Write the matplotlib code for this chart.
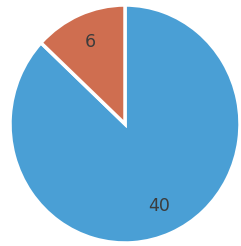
import matplotlib
matplotlib.use("Agg")
import matplotlib.pyplot as plt

values = [40, 6]
labels = ["40", "6"]
colors = ["#4a9fd5", "#cf6e50"]

fig = plt.figure(figsize=(2.41, 2.46), dpi=100)
ax = fig.add_axes([10/241, 3/246, 230/241, 238/246])
wedges, texts = ax.pie(values, labels=labels, colors=colors, startangle=90,
                       counterclock=False, labeldistance=0.75, radius=1.0,
                       wedgeprops=dict(edgecolor="white", linewidth=2.5),
                       textprops=dict(color="#3c3c3c", fontsize=12.5))
for t in texts:
    t.set_horizontalalignment("center")
    t.set_verticalalignment("center")
ax.set_xlim(-1, 1)
ax.set_ylim(-1, 1)
ax.set_aspect("auto")
ax.axis("off")
fig.savefig("out.png", dpi=100)
